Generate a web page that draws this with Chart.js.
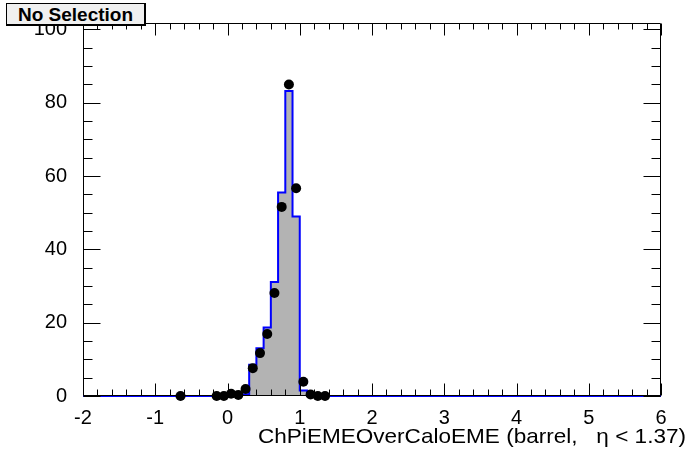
<!DOCTYPE html>
<html>
<head>
<meta charset="utf-8">
<script src="https://cdn.jsdelivr.net/npm/chart.js@4/dist/chart.umd.min.js"></script>
<style>
  html, body { margin: 0; padding: 0; background: #fff; }
  #wrap { position: relative; width: 696px; height: 472px; }
  #c { position: absolute; left: 0; top: 0; }
  #sel {
    position: absolute; left: 6px; top: 3px; width: 137px; height: 20px;
    background: #f0f0f0; border: 1px solid #000; border-right-width: 2px; border-bottom-width: 2px;
    font: bold 19px "Liberation Sans", Arial, sans-serif; line-height: 21px;
    text-align: center; color: #000; box-sizing: content-box;
  }
</style>
</head>
<body>
<div id="wrap">
  <canvas id="c" width="696" height="472"></canvas>
  <div id="sel">No Selection</div>
</div>
<script>
// Histogram: left bin edges and bin contents (stepped)
const histEdges  = [-2, 0.2, 0.3, 0.4, 0.5, 0.6, 0.7, 0.8, 0.9, 1.0, 1.1, 6];
const histValues = [0, 0.5, 8.5, 13.0, 18.7, 31.1, 55.5, 83.2, 49.0, 1.5, 0, 0];

// Data points (bin centres and contents)
const pointX = [-0.65, -0.15, -0.05, 0.05, 0.15, 0.25, 0.35, 0.45, 0.55, 0.65, 0.75, 0.85, 0.95, 1.05, 1.15, 1.25, 1.35];
const pointY = [0, 0, 0, 0.6, 0.3, 1.9, 7.6, 11.7, 16.9, 28.1, 51.6, 85.0, 56.7, 3.9, 0.4, 0, 0];

const xTickLabels = [-2, -1, 0, 1, 2, 3, 4, 5, 6];
const yTickLabels = [0, 20, 40, 60, 80, 100];
const xTitle = "ChPiEMEOverCaloEME (barrel,   \u03b7 < 1.37)";

const FONT = '"Liberation Sans", Arial, sans-serif';

const framePlugin = {
  id: 'rootFrame',
  afterDatasetsDraw(chart) {
    const ctx = chart.ctx;
    const a = chart.chartArea;
    const xs = chart.scales.x, ys = chart.scales.y;
    ctx.save();
    ctx.strokeStyle = '#000';
    ctx.lineWidth = 1;
    ctx.beginPath();
    const L = Math.round(a.left) + 0.5, R = Math.round(a.right) - 0.5;
    const T = Math.round(a.top) + 0.5, B = Math.round(a.bottom) - 0.5;
    ctx.rect(L, T, R - L, B - T);
    for (let i = 0; i <= 40; i++) {
      const v = xs.min + i * 0.2;
      const px = Math.round(xs.getPixelForValue(v)) + 0.5;
      const len = (i % 5 === 0) ? 12 : 6;
      ctx.moveTo(px, B); ctx.lineTo(px, B - len);
      ctx.moveTo(px, T); ctx.lineTo(px, T + len);
    }
    for (let v = 0; v <= ys.max + 1e-9; v += 5) {
      const py = Math.round(ys.getPixelForValue(v)) + 0.5;
      const len = (Math.round(v) % 20 === 0) ? 17 : 9;
      ctx.moveTo(L, py); ctx.lineTo(L + len, py);
      ctx.moveTo(R, py); ctx.lineTo(R - len, py);
    }
    ctx.stroke();
    // axis title, spanning from x=258 to x=686
    ctx.fillStyle = '#000';
    ctx.font = '21px ' + FONT;
    ctx.textBaseline = 'alphabetic';
    ctx.textAlign = 'left';
    const w = ctx.measureText(xTitle).width;
    const sx = (686 - 258) / w;
    ctx.translate(258, 443);
    ctx.scale(sx, 1);
    ctx.fillText(xTitle, 0, 0);
    ctx.restore();
  }
};

new Chart(document.getElementById('c'), {
  data: {
    datasets: [
      {
        type: 'scatter',
        data: pointX.map((x, i) => ({ x: x, y: pointY[i] })),
        backgroundColor: '#000',
        borderColor: '#000',
        pointRadius: 5,
        pointBorderWidth: 0,
        clip: false,
        order: 0
      },
      {
        type: 'line',
        data: histEdges.map((x, i) => ({ x: x, y: histValues[i] })),
        stepped: 'before',
        borderColor: '#0000ff',
        borderWidth: 2,
        backgroundColor: '#b3b3b3',
        fill: 'origin',
        pointRadius: 0,
        clip: false,
        order: 1
      }
    ]
  },
  options: {
    responsive: false,
    animation: false,
    devicePixelRatio: 1,
    layout: { padding: { top: 23, right: 35, left: 0, bottom: 0 } },
    plugins: { legend: { display: false }, tooltip: { enabled: false }, title: { display: false } },
    scales: {
      x: {
        type: 'linear', min: -2, max: 6,
        grid: { display: false }, border: { display: false },
        afterBuildTicks: s => { s.ticks = xTickLabels.map(v => ({ value: v })); },
        afterFit: s => { s.height = 76; },
        ticks: { color: '#000', font: { family: FONT, size: 20 }, padding: 2, maxRotation: 0, autoSkip: false,
                 callback: v => String(v).replace('\u2212', '-') }
      },
      y: {
        type: 'linear', min: 0, max: 101.77,
        grid: { display: false }, border: { display: false },
        afterBuildTicks: s => { s.ticks = yTickLabels.map(v => ({ value: v })); },
        afterFit: s => { s.width = 83; },
        ticks: { color: '#000', font: { family: FONT, size: 20 }, padding: 8, autoSkip: false }
      }
    }
  },
  plugins: [framePlugin]
});
</script>
</body>
</html>
